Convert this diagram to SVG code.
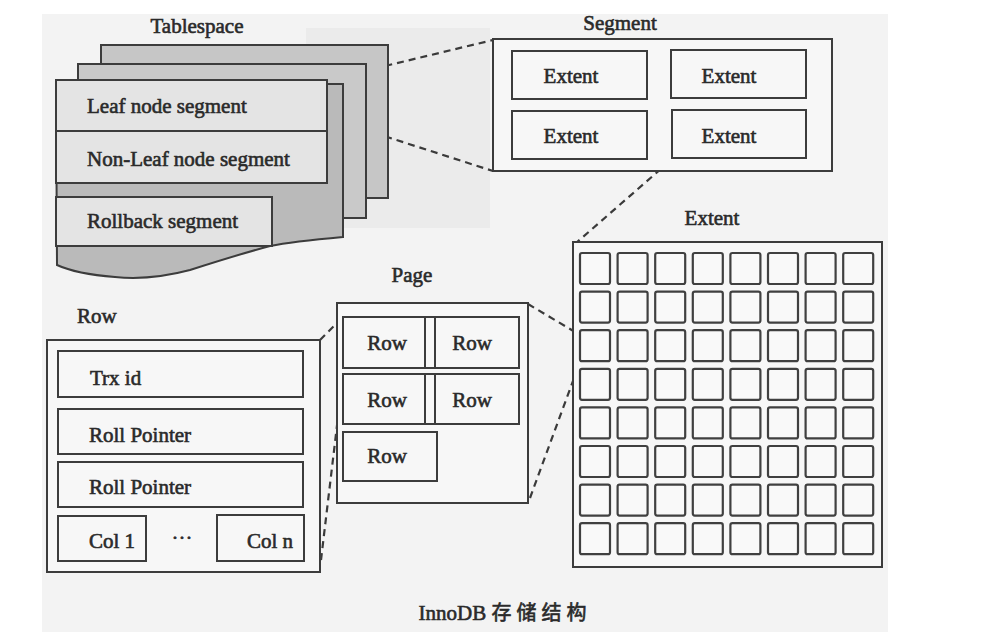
<svg xmlns="http://www.w3.org/2000/svg" width="988" height="644" viewBox="0 0 988 644">
  <style>
    .t { font-family: "Liberation Serif", "Times New Roman", serif; font-size: 21px; fill: #2a2a2a; stroke: #2a2a2a; stroke-width: 0.6; }
    .c { text-anchor: middle; }
    .box { fill: #f7f7f7; stroke: #3c3c3c; stroke-width: 2; }
    .seg { fill: #e4e4e4; stroke: #3c3c3c; stroke-width: 2; }
    .sheet { stroke: #3c3c3c; stroke-width: 2; }
    .cell { fill: #f9f9f9; stroke: #404040; stroke-width: 2.2; }
    .dash { fill: none; stroke: #3a3a3a; stroke-width: 2.2; stroke-dasharray: 7 5; }
  </style>
  <rect x="0" y="0" width="988" height="644" fill="#ffffff"/>
  <rect x="42" y="14" width="846" height="618" fill="#f3f3f3"/>
  <rect x="306" y="28" width="184" height="200" fill="#ebebeb"/>

  <g id="connectors">
    <line class="dash" x1="327" y1="80" x2="493" y2="40"/>
    <line class="dash" x1="328" y1="118" x2="493" y2="171"/>
    <line class="dash" x1="670" y1="161" x2="576" y2="243"/>
    <line class="dash" x1="528" y1="304" x2="575" y2="332"/>
    <line class="dash" x1="530" y1="498" x2="577" y2="370"/>
    <line class="dash" x1="320" y1="340" x2="343" y2="317"/>
    <line class="dash" x1="321" y1="560" x2="343" y2="375"/>
  </g>

  <g id="tablespace">
    <text class="t c" x="197" y="33" font-size="20">Tablespace</text>
    <rect class="sheet" x="101" y="45" width="287" height="153" fill="#c6c6c6"/>
    <rect class="sheet" x="78" y="64" width="288" height="154" fill="#c9c9c9"/>
    <path class="sheet" fill="#bababa" d="M56,84 H343 V237 C310,240 285,243 270,246 C240,254 215,262 190,270 C160,278 135,279 115,277 C90,275 70,271 57,265 Z"/>
    <g id="leaf-node-segment">
      <rect class="seg" x="56" y="80" width="271" height="51"/>
      <text class="t" x="87" y="113">Leaf node segment</text>
    </g>
    <g id="non-leaf-node-segment">
      <rect class="seg" x="56" y="131" width="271" height="52"/>
      <text class="t" x="87" y="166">Non-Leaf node segment</text>
    </g>
    <g id="rollback-segment">
      <rect class="seg" x="56" y="197" width="216" height="49"/>
      <text class="t" x="87" y="228">Rollback segment</text>
    </g>
  </g>

  <g id="segment">
    <text class="t c" x="620" y="30">Segment</text>
    <rect class="box" x="493" y="39" width="339" height="132"/>
    <rect class="box" x="512" y="51" width="135" height="48"/>
    <text class="t c" x="571" y="83">Extent</text>
    <rect class="box" x="671" y="50" width="135" height="48"/>
    <text class="t c" x="729" y="83">Extent</text>
    <rect class="box" x="512" y="111" width="135" height="48"/>
    <text class="t c" x="571" y="143">Extent</text>
    <rect class="box" x="672" y="110" width="134" height="48"/>
    <text class="t c" x="729" y="143">Extent</text>
  </g>

  <g id="extent">
    <text class="t c" x="712" y="225">Extent</text>
    <rect class="box" x="573" y="242" width="309" height="325" stroke-width="2.5"/>
    <g id="pages">
      <rect class="cell" x="580" y="253" width="30" height="31" rx="2"/><rect class="cell" x="617.6" y="253" width="30" height="31" rx="2"/><rect class="cell" x="655.2" y="253" width="30" height="31" rx="2"/><rect class="cell" x="692.8" y="253" width="30" height="31" rx="2"/><rect class="cell" x="730.4" y="253" width="30" height="31" rx="2"/><rect class="cell" x="768" y="253" width="30" height="31" rx="2"/><rect class="cell" x="805.6" y="253" width="30" height="31" rx="2"/><rect class="cell" x="843.2" y="253" width="30" height="31" rx="2"/>
      <rect class="cell" x="580" y="291.6" width="30" height="31" rx="2"/><rect class="cell" x="617.6" y="291.6" width="30" height="31" rx="2"/><rect class="cell" x="655.2" y="291.6" width="30" height="31" rx="2"/><rect class="cell" x="692.8" y="291.6" width="30" height="31" rx="2"/><rect class="cell" x="730.4" y="291.6" width="30" height="31" rx="2"/><rect class="cell" x="768" y="291.6" width="30" height="31" rx="2"/><rect class="cell" x="805.6" y="291.6" width="30" height="31" rx="2"/><rect class="cell" x="843.2" y="291.6" width="30" height="31" rx="2"/>
      <rect class="cell" x="580" y="330.2" width="30" height="31" rx="2"/><rect class="cell" x="617.6" y="330.2" width="30" height="31" rx="2"/><rect class="cell" x="655.2" y="330.2" width="30" height="31" rx="2"/><rect class="cell" x="692.8" y="330.2" width="30" height="31" rx="2"/><rect class="cell" x="730.4" y="330.2" width="30" height="31" rx="2"/><rect class="cell" x="768" y="330.2" width="30" height="31" rx="2"/><rect class="cell" x="805.6" y="330.2" width="30" height="31" rx="2"/><rect class="cell" x="843.2" y="330.2" width="30" height="31" rx="2"/>
      <rect class="cell" x="580" y="368.8" width="30" height="31" rx="2"/><rect class="cell" x="617.6" y="368.8" width="30" height="31" rx="2"/><rect class="cell" x="655.2" y="368.8" width="30" height="31" rx="2"/><rect class="cell" x="692.8" y="368.8" width="30" height="31" rx="2"/><rect class="cell" x="730.4" y="368.8" width="30" height="31" rx="2"/><rect class="cell" x="768" y="368.8" width="30" height="31" rx="2"/><rect class="cell" x="805.6" y="368.8" width="30" height="31" rx="2"/><rect class="cell" x="843.2" y="368.8" width="30" height="31" rx="2"/>
      <rect class="cell" x="580" y="407.4" width="30" height="31" rx="2"/><rect class="cell" x="617.6" y="407.4" width="30" height="31" rx="2"/><rect class="cell" x="655.2" y="407.4" width="30" height="31" rx="2"/><rect class="cell" x="692.8" y="407.4" width="30" height="31" rx="2"/><rect class="cell" x="730.4" y="407.4" width="30" height="31" rx="2"/><rect class="cell" x="768" y="407.4" width="30" height="31" rx="2"/><rect class="cell" x="805.6" y="407.4" width="30" height="31" rx="2"/><rect class="cell" x="843.2" y="407.4" width="30" height="31" rx="2"/>
      <rect class="cell" x="580" y="446" width="30" height="31" rx="2"/><rect class="cell" x="617.6" y="446" width="30" height="31" rx="2"/><rect class="cell" x="655.2" y="446" width="30" height="31" rx="2"/><rect class="cell" x="692.8" y="446" width="30" height="31" rx="2"/><rect class="cell" x="730.4" y="446" width="30" height="31" rx="2"/><rect class="cell" x="768" y="446" width="30" height="31" rx="2"/><rect class="cell" x="805.6" y="446" width="30" height="31" rx="2"/><rect class="cell" x="843.2" y="446" width="30" height="31" rx="2"/>
      <rect class="cell" x="580" y="484.6" width="30" height="31" rx="2"/><rect class="cell" x="617.6" y="484.6" width="30" height="31" rx="2"/><rect class="cell" x="655.2" y="484.6" width="30" height="31" rx="2"/><rect class="cell" x="692.8" y="484.6" width="30" height="31" rx="2"/><rect class="cell" x="730.4" y="484.6" width="30" height="31" rx="2"/><rect class="cell" x="768" y="484.6" width="30" height="31" rx="2"/><rect class="cell" x="805.6" y="484.6" width="30" height="31" rx="2"/><rect class="cell" x="843.2" y="484.6" width="30" height="31" rx="2"/>
      <rect class="cell" x="580" y="523.2" width="30" height="31" rx="2"/><rect class="cell" x="617.6" y="523.2" width="30" height="31" rx="2"/><rect class="cell" x="655.2" y="523.2" width="30" height="31" rx="2"/><rect class="cell" x="692.8" y="523.2" width="30" height="31" rx="2"/><rect class="cell" x="730.4" y="523.2" width="30" height="31" rx="2"/><rect class="cell" x="768" y="523.2" width="30" height="31" rx="2"/><rect class="cell" x="805.6" y="523.2" width="30" height="31" rx="2"/><rect class="cell" x="843.2" y="523.2" width="30" height="31" rx="2"/>
    </g>
  </g>

  <g id="page">
    <text class="t c" x="412" y="282">Page</text>
    <rect class="box" x="337" y="303" width="191" height="200"/>
    <rect class="box" x="343" y="317" width="176" height="51"/>
    <line x1="425" y1="317" x2="425" y2="368" stroke="#3c3c3c" stroke-width="2"/>
    <line x1="435" y1="317" x2="435" y2="368" stroke="#3c3c3c" stroke-width="2"/>
    <text class="t c" x="387" y="350">Row</text>
    <text class="t c" x="472" y="350">Row</text>
    <rect class="box" x="343" y="374" width="176" height="50"/>
    <line x1="425" y1="374" x2="425" y2="424" stroke="#3c3c3c" stroke-width="2"/>
    <line x1="435" y1="374" x2="435" y2="424" stroke="#3c3c3c" stroke-width="2"/>
    <text class="t c" x="387" y="407">Row</text>
    <text class="t c" x="472" y="407">Row</text>
    <rect class="box" x="343" y="432" width="94" height="49"/>
    <text class="t c" x="387" y="463">Row</text>
  </g>

  <g id="row">
    <text class="t" x="77" y="323">Row</text>
    <rect class="box" x="47" y="340" width="273" height="232" stroke-width="2.5"/>
    <g id="trx-id">
      <rect class="box" x="58" y="351" width="245" height="46"/>
      <text class="t" x="90" y="385" font-size="20">Trx id</text>
    </g>
    <g id="roll-pointer-1">
      <rect class="box" x="58" y="409" width="245" height="45"/>
      <text class="t" x="89" y="442">Roll Pointer</text>
    </g>
    <g id="roll-pointer-2">
      <rect class="box" x="58" y="462" width="245" height="45"/>
      <text class="t" x="89" y="494">Roll Pointer</text>
    </g>
    <g id="col-1">
      <rect class="box" x="58" y="516" width="88" height="45"/>
      <text class="t c" x="112" y="548">Col 1</text>
    </g>
    <text class="t c" x="182" y="545">···</text>
    <g id="col-n">
      <rect class="box" x="217" y="515" width="87" height="46"/>
      <text class="t c" x="270" y="548">Col n</text>
    </g>
  </g>

  <text class="t c" x="505" y="620" font-size="16" stroke-width="0.2">InnoDB <tspan font-family="'Noto Sans CJK SC', sans-serif" font-size="20" letter-spacing="5">存储结构</tspan></text>
</svg>
